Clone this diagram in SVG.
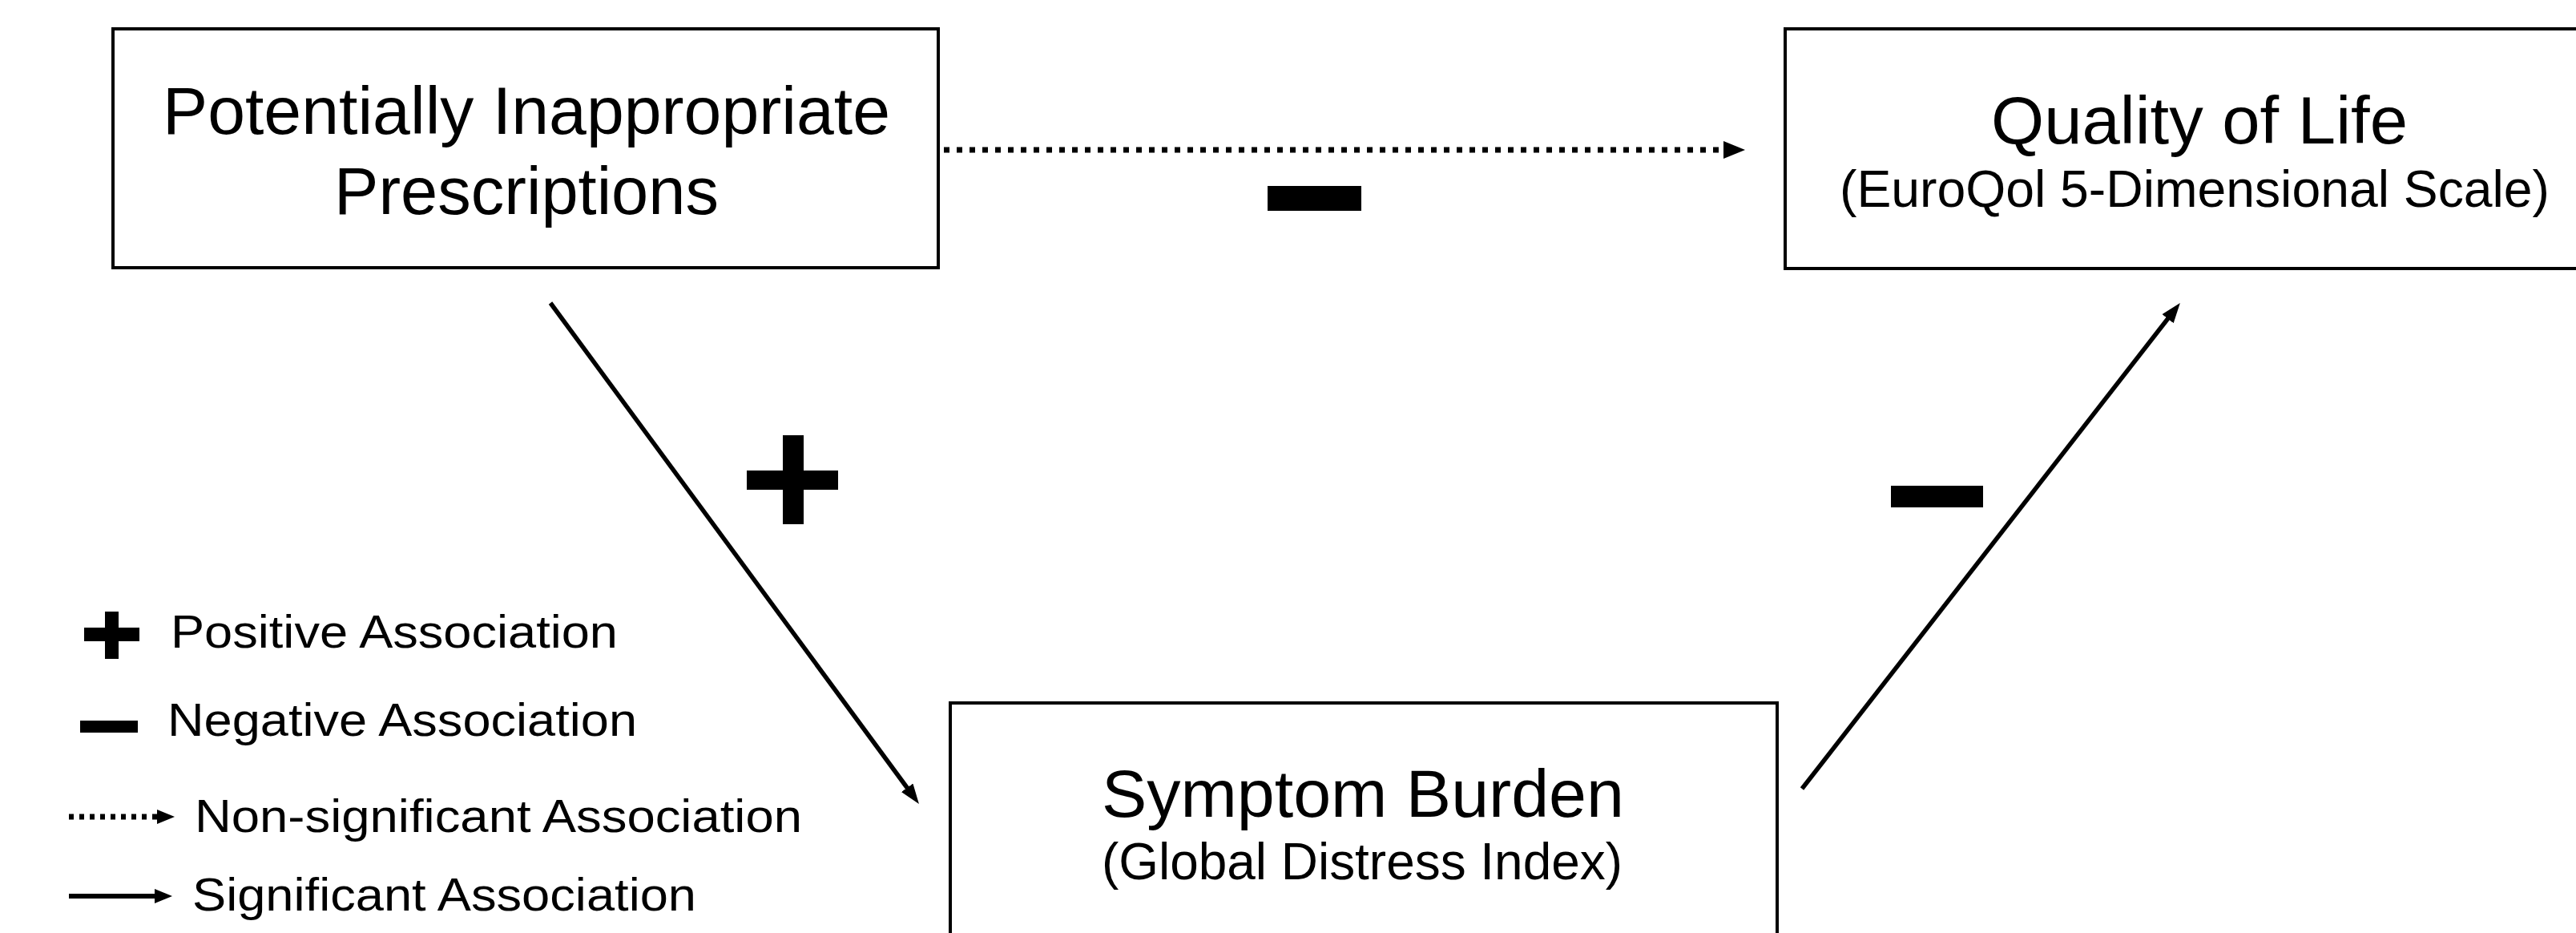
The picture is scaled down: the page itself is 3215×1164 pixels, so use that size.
<svg xmlns="http://www.w3.org/2000/svg" width="3215" height="1164" viewBox="0 0 3215 1164">
<style>
.box{fill:#fff;stroke:#000;stroke-width:4}
.t{font-family:"Liberation Sans",Arial,sans-serif;fill:#000}
.big{font-size:84px}
.sub{font-size:65px}
.leg{font-size:58px}
.solid{stroke:#000;stroke-width:5.5;fill:none}
.dot{stroke:#000;stroke-width:7;fill:none;stroke-dasharray:7 9}
.sym{fill:#000}
</style>
<defs>
<marker id="ah" markerUnits="userSpaceOnUse" markerWidth="28" markerHeight="20" refX="4" refY="9" orient="auto"><path d="M0,0 L25,9 L0,18 z" fill="#000"/></marker>
<marker id="ahd" markerUnits="userSpaceOnUse" markerWidth="30" markerHeight="24" refX="4" refY="11" orient="auto"><path d="M0,0 L27,11 L0,22 z" fill="#000"/></marker>
<marker id="ahl" markerUnits="userSpaceOnUse" markerWidth="24" markerHeight="20" refX="4" refY="9" orient="auto"><path d="M0,0 L22,9 L0,18 z" fill="#000"/></marker>
</defs>
<rect width="3215" height="1164" fill="#fff"/>
<g id="connectors">
<line class="dot" x1="1178" y1="187" x2="2155" y2="187" marker-end="url(#ahd)"/>
<line class="solid" x1="687" y1="378" x2="1134.5" y2="986" marker-end="url(#ah)"/>
<line class="solid" x1="2249" y1="984" x2="2708" y2="394.5" marker-end="url(#ah)"/>
</g>
<g id="node-pip">
<rect class="box" x="141" y="36" width="1030" height="298"/>
<text class="t big" x="203" y="167" textLength="908" lengthAdjust="spacingAndGlyphs">Potentially Inappropriate</text>
<text class="t big" x="417" y="267" textLength="480" lengthAdjust="spacingAndGlyphs">Prescriptions</text>
</g>
<g id="node-qol">
<rect class="box" x="2228" y="36" width="1100" height="299"/>
<text class="t big" x="2485" y="179" textLength="520" lengthAdjust="spacingAndGlyphs">Quality of Life</text>
<text class="t sub" x="2296" y="258" textLength="886" lengthAdjust="spacingAndGlyphs">(EuroQol 5-Dimensional Scale)</text>
</g>
<g id="node-symptom">
<rect class="box" x="1186" y="877" width="1032" height="400"/>
<text class="t big" x="1375" y="1019" textLength="652" lengthAdjust="spacingAndGlyphs">Symptom Burden</text>
<text class="t sub" x="1375" y="1097" textLength="650" lengthAdjust="spacingAndGlyphs">(Global Distress Index)</text>
</g>
<g id="signs">
<rect class="sym" x="1582" y="232" width="117" height="31"/>
<rect class="sym" x="2360" y="606" width="115" height="27"/>
<rect class="sym" x="932" y="587" width="114" height="24"/>
<rect class="sym" x="977" y="543" width="26" height="111"/>
</g>
<g id="legend">
<rect class="sym" x="105" y="783" width="69" height="17"/>
<rect class="sym" x="131" y="763" width="17" height="59"/>
<text class="t leg" x="213" y="808" textLength="558" lengthAdjust="spacingAndGlyphs">Positive Association</text>
<rect class="sym" x="100" y="899" width="72" height="15"/>
<text class="t leg" x="209" y="918" textLength="586" lengthAdjust="spacingAndGlyphs">Negative Association</text>
<line x1="86" y1="1019" x2="200" y2="1019" stroke="#000" stroke-width="7" stroke-dasharray="6 7" marker-end="url(#ahl)"/>
<text class="t leg" x="243" y="1038" textLength="758" lengthAdjust="spacingAndGlyphs">Non-significant Association</text>
<line x1="86" y1="1118" x2="197" y2="1118" stroke="#000" stroke-width="6" marker-end="url(#ahl)"/>
<text class="t leg" x="240" y="1136" textLength="629" lengthAdjust="spacingAndGlyphs">Significant Association</text>
</g>
</svg>
